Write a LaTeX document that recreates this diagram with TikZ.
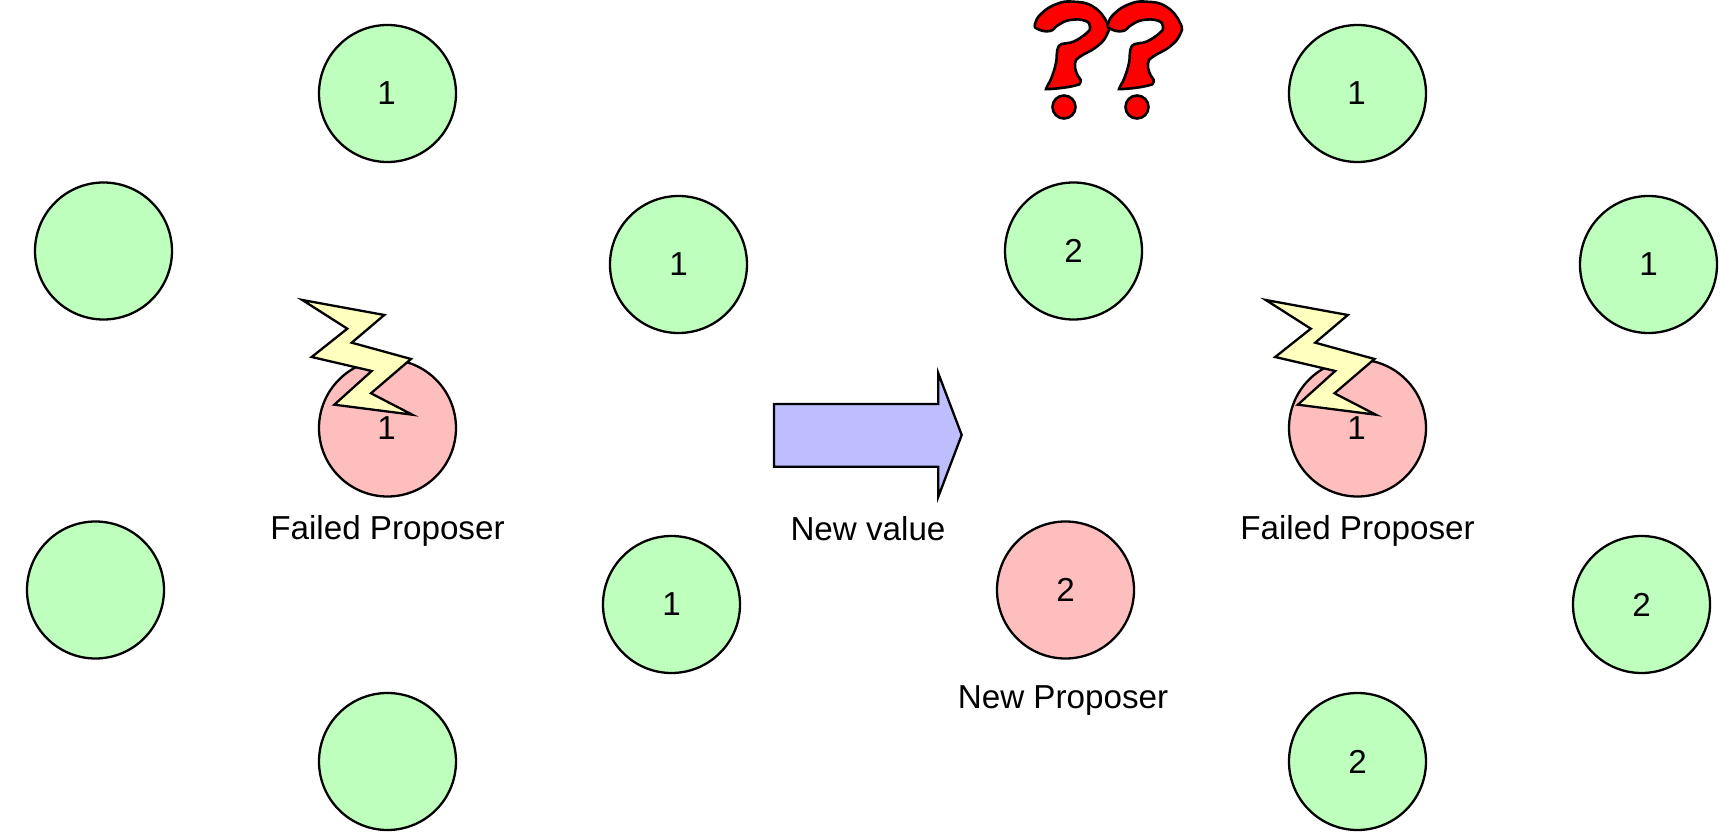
\documentclass[tikz,border=0pt]{standalone}
\usepackage{fontspec}
\setmainfont{Liberation Sans}
\usepackage{xcolor}

\tikzset{
  peer/.style={circle,draw,line width=1.15pt,fill=peergreen,minimum size=68.5pt,inner sep=0pt,font=\fontsize{16.6}{20}\selectfont},
  leader/.style={peer,fill=leaderred},
  caption/.style={inner sep=0pt,font=\fontsize{16.6}{20}\selectfont},
  bolt/.style={draw,line width=1.15pt,line join=miter,fill=boltyellow},
  quest/.style={draw,line width=1.3pt,fill=red}
}
\definecolor{peergreen}{RGB}{190,255,190}
\definecolor{leaderred}{RGB}{255,190,190}
\definecolor{boltyellow}{RGB}{255,255,190}
\definecolor{arrowblue}{RGB}{190,190,255}

\begin{document}
\begin{tikzpicture}[x=0.5pt,y=-0.5pt]
\useasboundingbox (0,0) rectangle (1720,833);

% Draw first group of peers
\node[peer] (a1) at (387.5,93.5) {\hspace{-1pt}1};
\node[peer] (a2) at (103.5,251) {};
\node[peer] (a3) at (678.5,264.5) {1};
\node[leader] (a4) at (387.5,428) {\hspace{-1pt}1};
\node[peer] (a5) at (95.5,590) {};
\node[peer] (a6) at (671.5,604.5) {1};
\node[peer] (a7) at (387.5,761.5) {};
\node[caption] (failedA) at (387.5,530.5) {Failed Proposer};

% Draw second group of peers
\node[peer] (b1) at (1357.5,93.5) {\hspace{-1pt}1};
\node[peer] (b2) at (1073.5,251) {2};
\node[peer] (b3) at (1648.5,264.5) {1};
\node[leader] (b4) at (1357.5,428) {\hspace{-1pt}1};
\node[leader] (b5) at (1065.5,590) {2};
\node[peer] (b6) at (1641.5,604.5) {2};
\node[peer] (b7) at (1357.5,761.5) {2};
\node[caption] (failedB) at (1357.5,530.5) {Failed Proposer};
\node[caption] (newProposer) at (1063,700.5) {New Proposer};

% Draw lightning on both failed proposers
\draw[bolt] (302.3,300) -- (384.3,315) -- (351.7,342.7) -- (411,359) -- (371,393.3) -- (412.3,414.7) -- (334.3,404.7) -- (371.7,371) -- (311.7,357) -- (347.3,328.7) -- cycle;
\draw[bolt,xshift=481.75pt] (302.3,300) -- (384.3,315) -- (351.7,342.7) -- (411,359) -- (371,393.3) -- (412.3,414.7) -- (334.3,404.7) -- (371.7,371) -- (311.7,357) -- (347.3,328.7) -- cycle;

% Draw middle arrow
\draw[line width=1.15pt,fill=arrowblue] (774,404) -- (938.3,404) -- (938.3,373.3) -- (961.7,435) -- (938.3,496.7) -- (938.3,466.7) -- (774,466.7) -- cycle;
\node[caption] (newValue) at (868,528.5) {New value};

% Draw question marks
\draw[quest] plot[smooth cycle,tension=0.8] coordinates {(1046.7,87.3) (1051,79) (1056,63) (1057.3,50) (1062,44) (1073.3,41.7) (1086.7,33) (1090,26.7) (1085,20.7) (1070,20) (1058.3,25) (1050,31) (1038.3,29.3) (1035,24) (1041.7,13.3) (1056.7,4) (1073.3,1.7) (1093.3,6.7) (1107.3,23.3) (1106.7,35) (1096.7,46.7) (1080,56.7) (1075,63.3) (1076.7,73.3) (1080.7,81.7) (1073.3,86) (1050,89)};
\draw[quest,xshift=36.5pt] plot[smooth cycle,tension=0.8] coordinates {(1046.7,87.3) (1051,79) (1056,63) (1057.3,50) (1062,44) (1073.3,41.7) (1086.7,33) (1090,26.7) (1085,20.7) (1070,20) (1058.3,25) (1050,31) (1038.3,29.3) (1035,24) (1041.7,13.3) (1056.7,4) (1073.3,1.7) (1093.3,6.7) (1107.3,23.3) (1106.7,35) (1096.7,46.7) (1080,56.7) (1075,63.3) (1076.7,73.3) (1080.7,81.7) (1073.3,86) (1050,89)};
\draw[quest] (1064,107) circle (11.5);
\draw[quest] (1137,107) circle (11.5);
\end{tikzpicture}
\end{document}
